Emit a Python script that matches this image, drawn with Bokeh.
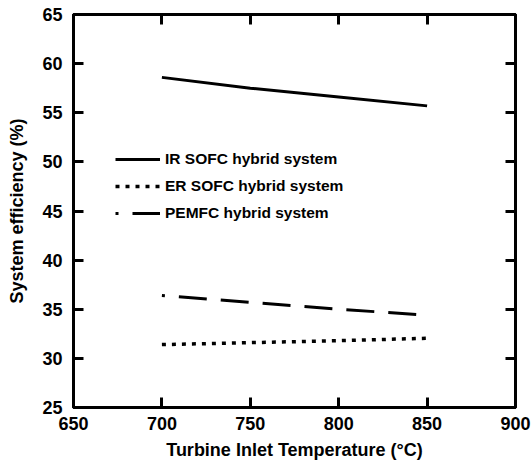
from bokeh.plotting import figure
from bokeh.models import LinearAxis, FixedTicker, Legend, LegendItem, Range1d
from bokeh.embed import file_html
from bokeh.resources import INLINE

temps = [700, 750, 800, 850]
ir_sofc = [58.6, 57.5, 56.6, 55.7]
er_sofc = [31.4, 31.6, 31.8, 32.05]
pemfc = [36.4, 35.7, 35.0, 34.4]
x_ticks = [650, 700, 750, 800, 850, 900]
y_ticks = [25, 30, 35, 40, 45, 50, 55, 60, 65]

FONT = "Liberation Sans"
TICK_FONT = "Liberation Sans Bold, Liberation Sans"

p = figure(width=531, height=469, output_backend="svg", toolbar_location=None,
           x_range=Range1d(x_ticks[0], x_ticks[-1]), y_range=Range1d(y_ticks[0], y_ticks[-1]),
           min_border_left=73, min_border_right=16, min_border_top=14, min_border_bottom=62,
           x_axis_location=None, y_axis_location=None)
p.xgrid.visible = False
p.ygrid.visible = False
p.outline_line_color = "black"
p.outline_line_width = 3

def style(ax, ticks, labels=True):
    ax.ticker = FixedTicker(ticks=ticks)
    ax.axis_line_width = 3
    ax.axis_line_color = "black"
    ax.major_tick_in = 10
    ax.major_tick_out = 0
    ax.major_tick_line_width = 3
    ax.minor_tick_line_color = None
    ax.major_label_text_font = TICK_FONT
    ax.major_label_text_font_style = "bold"
    ax.major_label_text_font_size = "18px"
    ax.major_label_text_color = "black"
    ax.axis_label_text_font = FONT
    ax.axis_label_text_font_style = "bold"
    ax.axis_label_text_font_size = "18px"
    ax.axis_label_text_color = "black"
    if not labels:
        ax.major_label_text_color = None
        ax.major_label_text_font_size = "0px"

xb = LinearAxis(axis_label="Turbine Inlet Temperature (°C)")
xt = LinearAxis()
yl = LinearAxis(axis_label="System efficiency (%)")
yr = LinearAxis()
style(xb, x_ticks)
style(xt, x_ticks, False)
style(yl, y_ticks)
style(yr, y_ticks, False)
xb.major_label_standoff = 9
xb.axis_label_standoff = 7
yl.major_label_standoff = 11
yl.axis_label_standoff = 12
p.add_layout(xb, "below")
p.add_layout(xt, "above")
p.add_layout(yl, "left")
p.add_layout(yr, "right")

r1 = p.line(temps, ir_sofc, line_color="black", line_width=3)
r2 = p.line(temps, er_sofc, line_color="black", line_width=3.5, line_dash="4 6")
r3 = p.line(temps, pemfc, line_color="black", line_width=3, line_dash="28 14",
            line_dash_offset=25)

legend = Legend(items=[LegendItem(label="IR SOFC hybrid system", renderers=[r1]),
                       LegendItem(label="ER SOFC hybrid system", renderers=[r2]),
                       LegendItem(label="PEMFC hybrid system", renderers=[r3])],
                location=(42, 184), padding=0, margin=0, spacing=7,
                glyph_width=45, glyph_height=20, label_height=20,
                label_standoff=5,
                label_text_font=FONT, label_text_font_style="bold",
                label_text_font_size="15.5px", label_text_color="black",
                border_line_color=None, background_fill_alpha=0)
p.add_layout(legend, "center")

open("out.html", "w").write(file_html(p, INLINE))
